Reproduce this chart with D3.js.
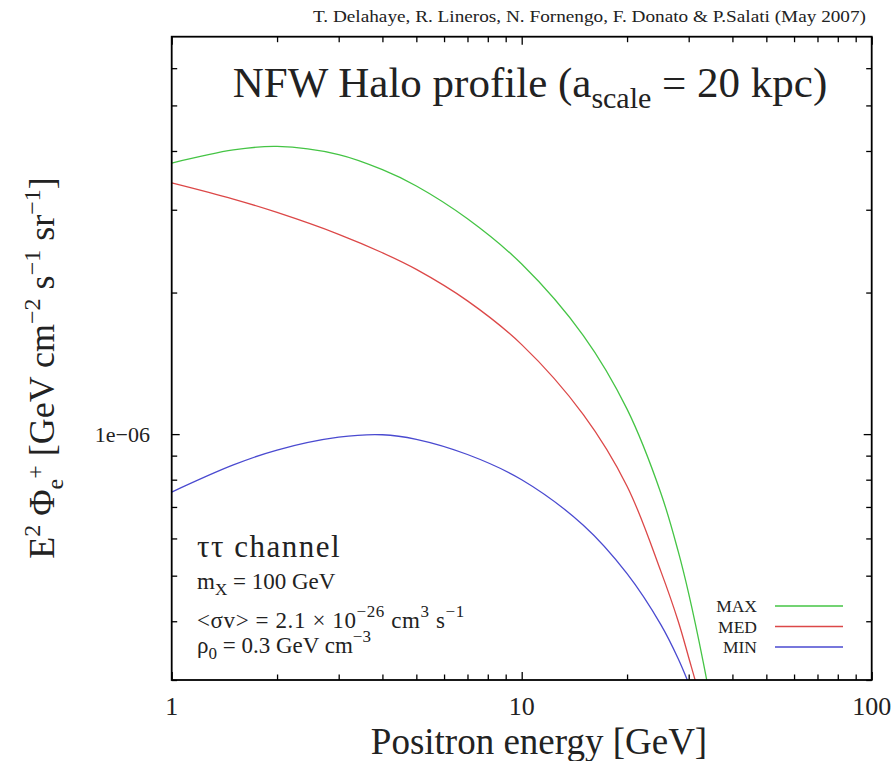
<!DOCTYPE html>
<html>
<head>
<meta charset="utf-8">
<script src="https://cdn.jsdelivr.net/npm/d3@7"></script>
<style>
  body { margin: 0; background: #fff; }
  svg, text, tspan { font-family: "Liberation Serif", "Tinos", "Times New Roman", "Times", "DejaVu Serif", serif; }
  text { fill: #222; }
  .axis path { display: none; }
  .axis line { stroke: #000; stroke-width: 1.3; }
</style>
</head>
<body>
<script>
// energy grid (GeV)
var energyGeV = [1, 1.5, 2, 3, 4, 5, 7, 10, 15, 20, 25, 28, 30, 33, 36];
// E^2 flux, one array per propagation set
var fluxMax = [3.77e-6, 4.02e-6, 4.09e-6, 3.93e-6, 3.65e-6, 3.37e-6, 2.87e-6, 2.30e-6, 1.62e-6, 1.13e-6, 7.48e-7, 5.63e-7, 4.58e-7, 3.28e-7, 2.32e-7];
var fluxMed = [3.42e-6, 3.16e-6, 2.96e-6, 2.66e-6, 2.43e-6, 2.24e-6, 1.92e-6, 1.55e-6, 1.10e-6, 7.75e-7, 5.10e-7, 4.00e-7, 3.35e-7, 2.60e-7, 2.00e-7];
var fluxMin = [7.53e-7, 8.60e-7, 9.25e-7, 9.85e-7, 9.97e-7, 9.75e-7, 9.05e-7, 8.0e-7, 6.40e-7, 5.05e-7, 3.93e-7, 3.33e-7, 2.95e-7, 2.44e-7, 2.00e-7];
var seriesNames = ["MAX", "MED", "MIN"];

// tick values
var xMajorTicks = [1, 10, 100];
var xMinorTicks = [2, 3, 4, 5, 6, 7, 8, 9, 20, 30, 40, 50, 60, 70, 80, 90];
var xTickLabels = ["1", "10", "100"];
var yMajorTicks = [1e-6];
var yMinorTicks = [3e-7, 4e-7, 5e-7, 6e-7, 7e-7, 8e-7, 9e-7, 2e-6, 3e-6, 4e-6, 5e-6, 6e-6];
var yTickLabels = ["1e\u221206"];

window.onload = function(){
    var w = 896, h = 761;
    var left = 171.7, right = 871.7, top = 36.7, bottom = 680;

    var svg = d3.select("body").append("svg")
        .attr("width", w)
        .attr("height", h);

    var x = d3.scaleLog().domain([1, 100]).range([left, right]);
    var y = d3.scaleLog().domain([3e-7, 7e-6]).range([bottom, top]);

    // clip for the curves
    svg.append("clipPath").attr("id", "plotclip")
        .append("rect")
        .attr("x", left).attr("y", top)
        .attr("width", right - left).attr("height", bottom - top);

    var colors = ["#45c445", "#dc4848", "#4a4ad0"];
    var allFlux = [fluxMax, fluxMed, fluxMin];

    var line = d3.line()
        .x(function(d){ return x(d[0]); })
        .y(function(d){ return y(d[1]); })
        .curve(d3.curveCatmullRom.alpha(0.5));

    svg.append("g").attr("clip-path", "url(#plotclip)")
        .selectAll("path")
        .data(allFlux)
        .enter()
        .append("path")
        .attr("d", function(d){
            return line(energyGeV.map(function(e, i){ return [e, d[i]]; }));
        })
        .attr("fill", "none")
        .attr("stroke", function(d, i){ return colors[i]; })
        .attr("stroke-width", 1.3);

    // ticks on all four sides, pointing inward
    var major = 8, minor = 5.5;
    function addAxis(gen, tx, ty){
        return svg.append("g").attr("class", "axis")
            .attr("transform", "translate(" + tx + "," + ty + ")")
            .call(gen);
    }
    addAxis(d3.axisBottom(x).tickValues(xMajorTicks).tickSize(-major).tickFormat(""), 0, bottom);
    addAxis(d3.axisBottom(x).tickValues(xMinorTicks).tickSize(-minor).tickFormat(""), 0, bottom);
    addAxis(d3.axisTop(x).tickValues(xMajorTicks).tickSize(-major).tickFormat(""), 0, top);
    addAxis(d3.axisTop(x).tickValues(xMinorTicks).tickSize(-minor).tickFormat(""), 0, top);
    addAxis(d3.axisLeft(y).tickValues(yMajorTicks).tickSize(-major).tickFormat(""), left, 0);
    addAxis(d3.axisLeft(y).tickValues(yMinorTicks).tickSize(-minor).tickFormat(""), left, 0);
    addAxis(d3.axisRight(y).tickValues(yMajorTicks).tickSize(-major).tickFormat(""), right, 0);
    addAxis(d3.axisRight(y).tickValues(yMinorTicks).tickSize(-minor).tickFormat(""), right, 0);

    // frame
    svg.append("rect")
        .attr("x", left).attr("y", top)
        .attr("width", right - left).attr("height", bottom - top)
        .attr("fill", "none")
        .attr("stroke", "#000")
        .attr("stroke-width", 1.8);

    // tick labels
    svg.selectAll(".xlab")
        .data(xMajorTicks)
        .enter().append("text")
        .attr("class", "xlab")
        .attr("x", function(d){ return x(d); })
        .attr("y", 715)
        .attr("text-anchor", "middle")
        .style("font-size", "26px")
        .text(function(d, i){ return xTickLabels[i]; });

    svg.selectAll(".ylab")
        .data(yMajorTicks)
        .enter().append("text")
        .attr("class", "ylab")
        .attr("x", 150)
        .attr("y", function(d){ return y(d) + 8; })
        .attr("text-anchor", "end")
        .style("font-size", "22px")
        .text(function(d, i){ return yTickLabels[i]; });

    // axis titles
    svg.append("text")
        .attr("x", 539).attr("y", 754)
        .attr("text-anchor", "middle")
        .style("font-size", "37px")
        .text("Positron energy [GeV]");

    var yt = svg.append("text")
        .attr("transform", "translate(54,368) rotate(-90)")
        .attr("text-anchor", "middle")
        .style("font-size", "36px");
    yt.append("tspan").text("E");
    yt.append("tspan").attr("dy", -14).style("font-size", "24px").text("2");
    yt.append("tspan").attr("dy", 14).text(" \u03A6");
    yt.append("tspan").attr("dy", 9).style("font-size", "24px").text("e");
    yt.append("tspan").attr("dy", -20).style("font-size", "24px").text("+");
    yt.append("tspan").attr("dy", 11).text(" [GeV cm");
    yt.append("tspan").attr("dy", -14).style("font-size", "24px").text("\u22122");
    yt.append("tspan").attr("dy", 14).text(" s");
    yt.append("tspan").attr("dy", -14).style("font-size", "24px").text("\u22121");
    yt.append("tspan").attr("dy", 14).text(" sr");
    yt.append("tspan").attr("dy", -14).style("font-size", "24px").text("\u22121");
    yt.append("tspan").attr("dy", 14).text("]");

    // credit line
    svg.append("text")
        .attr("x", 866).attr("y", 22)
        .attr("text-anchor", "end")
        .attr("textLength", 553)
        .attr("lengthAdjust", "spacingAndGlyphs")
        .style("font-size", "16px")
        .text("T. Delahaye, R. Lineros, N. Fornengo, F. Donato & P.Salati (May 2007)");

    // title
    var tt = svg.append("text")
        .attr("x", 530).attr("y", 97)
        .attr("text-anchor", "middle")
        .style("font-size", "43px");
    tt.append("tspan").text("NFW Halo profile (a");
    tt.append("tspan").attr("dy", 11).style("font-size", "30px").text("scale");
    tt.append("tspan").attr("dy", -11).text(" = 20 kpc)");

    // annotation block
    var ax = 197;
    svg.append("text").attr("x", ax).attr("y", 557)
        .style("font-size", "31px")
        .style("letter-spacing", "1.5px")
        .text("\u03C4\u03C4 channel");

    var t1 = svg.append("text").attr("x", ax).attr("y", 589).style("font-size", "23px");
    t1.append("tspan").text("m");
    t1.append("tspan").attr("dy", 6).style("font-size", "17px").text("X");
    t1.append("tspan").attr("dy", -6).text(" = 100 GeV");

    var t2 = svg.append("text").attr("x", ax).attr("y", 628)
        .style("font-size", "23px")
        .style("letter-spacing", "0.6px");
    t2.append("tspan").text("<\u03C3v> = 2.1 \u00D7 10");
    t2.append("tspan").attr("dy", -11).style("font-size", "17px").text("\u221226");
    t2.append("tspan").attr("dy", 11).text(" cm");
    t2.append("tspan").attr("dy", -11).style("font-size", "17px").text("3");
    t2.append("tspan").attr("dy", 11).text(" s");
    t2.append("tspan").attr("dy", -11).style("font-size", "17px").text("\u22121");

    var t3 = svg.append("text").attr("x", ax).attr("y", 653).style("font-size", "23px");
    t3.append("tspan").text("\u03C1");
    t3.append("tspan").attr("dy", 6).style("font-size", "17px").text("0");
    t3.append("tspan").attr("dy", -6).text(" = 0.3 GeV cm");
    t3.append("tspan").attr("dy", -11).style("font-size", "17px").text("\u22123");

    // legend
    var legend = svg.selectAll(".legend")
        .data(seriesNames)
        .enter().append("g")
        .attr("class", "legend")
        .attr("transform", function(d, i){ return "translate(0," + (606 + i * 20.5) + ")"; });
    legend.append("text")
        .attr("x", 757).attr("y", 6)
        .attr("text-anchor", "end")
        .style("font-size", "17.5px")
        .text(function(d){ return d; });
    legend.append("line")
        .attr("x1", 775).attr("x2", 843)
        .attr("y1", 0).attr("y2", 0)
        .attr("stroke", function(d, i){ return colors[i]; })
        .attr("stroke-width", 1.3);
};
</script>
</body>
</html>
